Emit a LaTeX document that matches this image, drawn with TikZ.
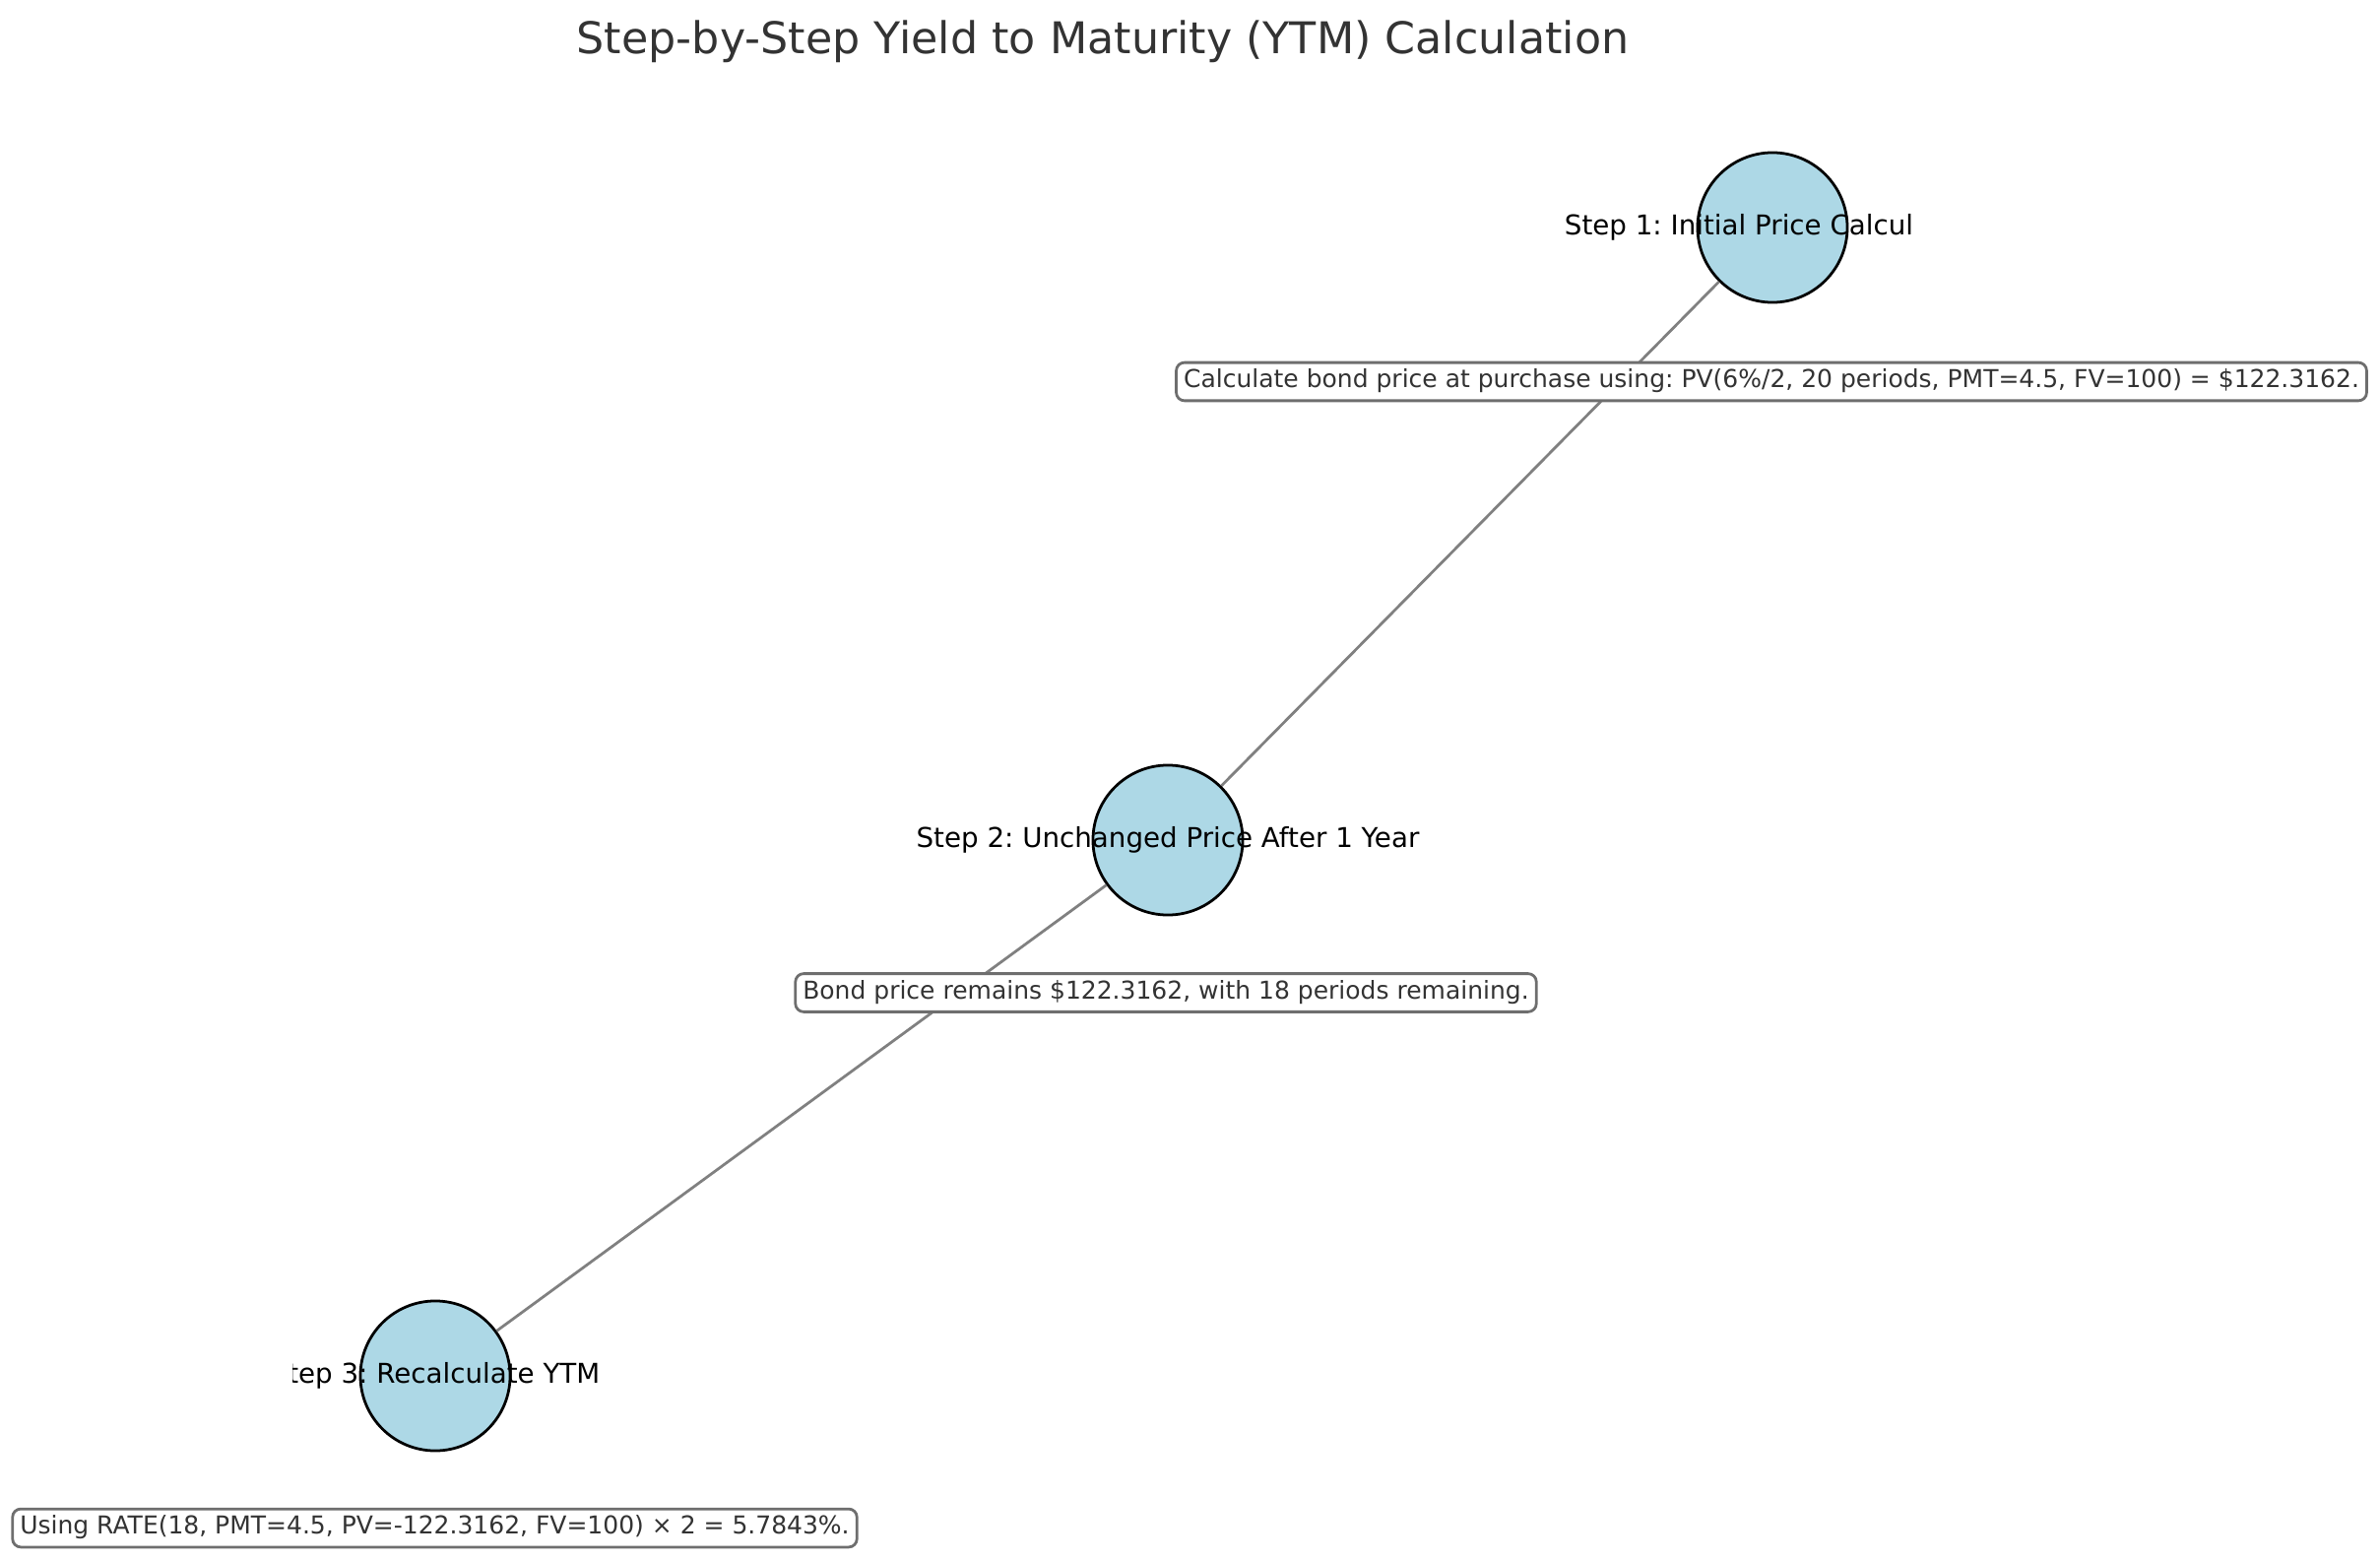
\documentclass[tikz,border=0pt]{standalone}
\usepackage{fontspec}
\setmainfont{DejaVu Sans}
\frenchspacing
\definecolor{nodefill}{HTML}{ADD8E6}
\definecolor{txtdark}{HTML}{333333}
\definecolor{edgegray}{HTML}{808080}
\definecolor{boxedge}{HTML}{6E6E6E}
\begin{document}
\begin{tikzpicture}[x=0.48pt,y=-0.48pt,
  stepnode/.style={circle,draw=black,line width=1.33pt,fill=nodefill,minimum size=73pt,inner sep=0pt},
  steplabel/.style={font=\frenchspacing\fontsize{13.3}{16}\selectfont,text=black,inner sep=0pt},
  notebox/.style={rectangle,rounded corners=4pt,draw=boxedge,line width=1.33pt,fill=white,
    font=\frenchspacing\fontsize{12}{14}\selectfont,text=txtdark,inner xsep=3.6pt,inner ysep=3.4pt,
    text height=9pt,text depth=2.8pt},
  conn/.style={draw=edgegray,line width=1.33pt}]
\useasboundingbox (0,0) rectangle (2417,1585);
\node[font=\fontsize{21.3}{25}\selectfont,text=txtdark] (title) at (1120,42) {Step-by-Step Yield to Maturity (YTM) Calculation};
\node[stepnode] (n1) at (1800,231) {};
\node[stepnode] (n2) at (1186,853) {};
\node[stepnode] (n3) at (442,1397) {};
\draw[conn] (n1) -- (n2);
\draw[conn] (n2) -- (n3);
\node[steplabel] (l1) at (1766,231) {Step 1: Initial Price Calcul};
\node[steplabel] (l2) at (n2.center) {Step 2: Unchanged Price After 1 Year};
\begin{scope}
\clip (297,1300) rectangle (800,1500);
\node[steplabel] (l3) at (n3.center) {Step 3: Recalculate YTM};
\end{scope}
\node[notebox] (b1) at (1799,387.5) {Calculate bond price at purchase using: PV(6\%/2, 20 periods, PMT=4.5, FV=100) = \$122.3162.};
\node[notebox] (b2) at (1184,1008) {Bond price remains \$122.3162, with 18 periods remaining.};
\node[notebox] (b3) at (441.5,1551.5) {Using RATE(18, PMT=4.5, PV=-122.3162, FV=100) × 2 = 5.7843\%.};
\end{tikzpicture}
\end{document}
